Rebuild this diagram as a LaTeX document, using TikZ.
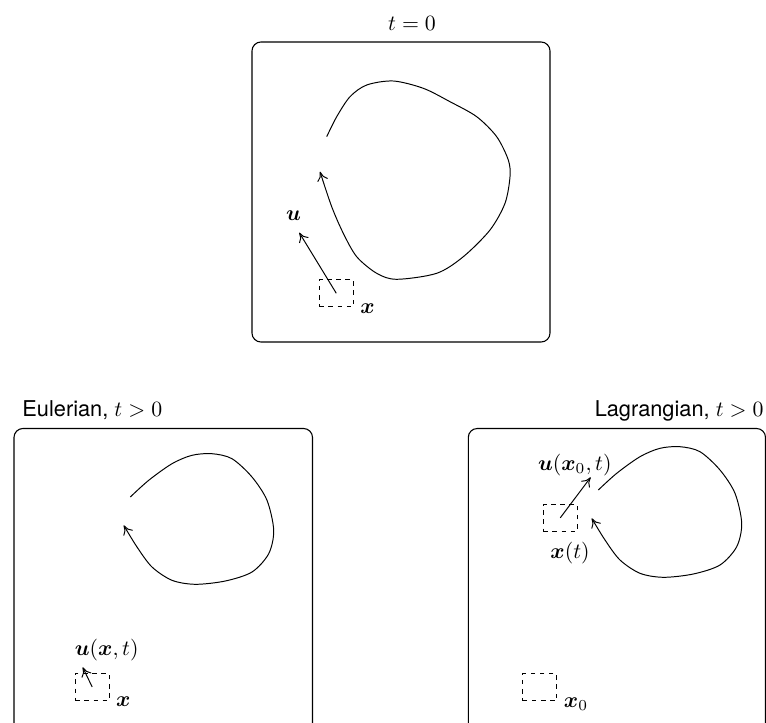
\documentclass[tikz,border=0pt]{standalone}
\usepackage{amsmath}
\usepackage{bm}
\usepackage[no-math]{fontspec}
\setmainfont{TeX Gyre Heros}
\usetikzlibrary{arrows.meta}
\begin{document}
\begin{tikzpicture}[x=0.459pt,y=-0.459pt,
  panel/.style={draw, rounded corners=4.1pt, line width=0.5pt},
  dbox/.style={draw, line width=0.45pt, dash pattern=on 2.1pt off 2.1pt, minimum width=15.6pt, minimum height=12.3pt, inner sep=0pt},
  flow/.style={-{To[length=4.2pt,width=5pt]}, line width=0.45pt},
  lbl/.style={inner sep=0pt}]
\clip (0,0) rectangle (766,722);

% ---------- t = 0 ----------
\draw[panel] (252,42) rectangle (550,342);
\node[lbl, anchor=base] (title0) at (412,30) {$t=0$};
\draw[flow] plot[smooth] coordinates {(326.7,136.7) (336.7,116.7) (350,96.7) (366.7,85) (393.3,81) (423.3,88.3) (450,101.7) (476.7,116.7) (496.7,136.7) (508.3,160) (510,176.7) (505,203.3) (490,230) (463.3,256.7) (436.7,273.3) (396.7,279.3) (376.7,273.3) (356.7,256.7) (343.3,233.3) (331.7,206.7) (320,171.7)};
\node[dbox] (bx0) at (336.3,293.3) {};
\coordinate (tip0) at (299.3,232.7);
\draw[flow] (bx0.center) -- (tip0);
\node[lbl, anchor=base] (u0) at (293.5,220) {$\bm{u}$};
\node[lbl, anchor=base] (x0lab) at (367.5,313) {$\bm{x}$};

% ---------- Eulerian ----------
\draw[panel] (14,428.5) rectangle (312.5,740);
\node[lbl, anchor=base west] (titleE) at (22,416) {Eulerian, $t>0$};
\begin{scope}[shift={(-468,7)}]
\draw[flow] plot[smooth] coordinates {(598.3,490) (616.7,473.3) (640,456.7) (660,448.3) (680,446.7) (700,451.7) (720,470) (735,493.3) (741.7,523.3) (736.7,546.7) (720,565) (693.3,574) (663.3,577.3) (640,573.3) (620,560) (605,540) (591.7,518.3)};
\end{scope}
\node[dbox] (bxE) at (92.2,687) {};
\coordinate (tipE) at (82.7,667.3);
\draw[flow] (bxE.center) -- (tipE);
\node[lbl] (uE) at (106.7,650) {$\bm{u}(\bm{x},t)$};
\node[lbl, anchor=base] (xE) at (123.3,706.7) {$\bm{x}$};

% ---------- Lagrangian ----------
\draw[panel] (468.3,428.5) rectangle (765.5,740);
\node[lbl, anchor=base east] (titleL) at (764,416) {Lagrangian, $t>0$};
\draw[flow] plot[smooth] coordinates {(598.3,490) (616.7,473.3) (640,456.7) (660,448.3) (680,446.7) (700,451.7) (720,470) (735,493.3) (741.7,523.3) (736.7,546.7) (720,565) (693.3,574) (663.3,577.3) (640,573.3) (620,560) (605,540) (591.7,518.3)};
\node[dbox] (bxL) at (560.3,517.8) {};
\coordinate (tipL) at (590.7,477.3);
\draw[flow] (bxL.center) -- (tipL);
\node[lbl] (uL) at (574.8,465) {$\bm{u}(\bm{x}_0,t)$};
\node[lbl] (xtL) at (570,552.7) {$\bm{x}(t)$};
\node[dbox] (bxL0) at (539.7,687.3) {};
\node[lbl] (x0L) at (576,704) {$\bm{x}_0$};
\end{tikzpicture}
\end{document}
